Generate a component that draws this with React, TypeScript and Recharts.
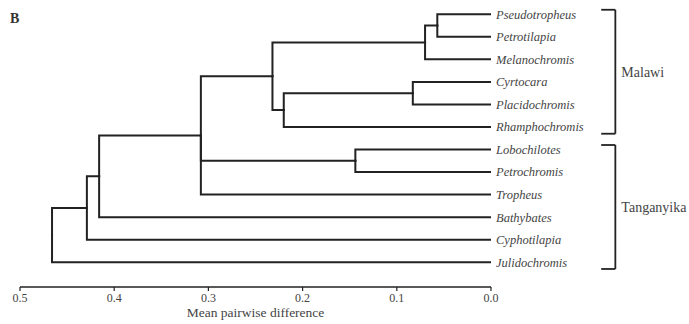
import React from 'react';
import { ScatterChart, Scatter, XAxis, YAxis, ReferenceLine } from 'recharts';

// leaves, top to bottom
const leafNames = [
  'Pseudotropheus', 'Petrotilapia', 'Melanochromis', 'Cyrtocara', 'Placidochromis', 'Rhamphochromis',
  'Lobochilotes', 'Petrochromis', 'Tropheus', 'Bathybates', 'Cyphotilapia', 'Julidochromis',
];
// internal nodes get ids 12, 13, ... in this order
const mergeChildren = [[0, 1], [12, 2], [3, 4], [14, 5], [13, 15], [6, 7], [16, 17, 8], [18, 9], [19, 10], [20, 11]];
const mergeHeights = [0.057, 0.07, 0.083, 0.22, 0.232, 0.144, 0.308, 0.416, 0.429, 0.466];
const xTicks = [0.5, 0.4, 0.3, 0.2, 0.1, 0.0];
const groupNames = ['Malawi', 'Tanganyika'];
const groupFirst = [0, 6];
const groupLast = [5, 11];

const INK = '#222';
const TEXT = '#444';
const FONT = '"Liberation Serif", "DejaVu Serif", serif';

// node positions: height + vertical slot
const pos: { h: number; y: number }[] = leafNames.map((_, i) => ({ h: 0, y: i }));
mergeChildren.forEach((ch, k) => {
  const ys = ch.map((c) => pos[c].y);
  pos.push({ h: mergeHeights[k], y: (Math.min(...ys) + Math.max(...ys)) / 2 });
});

// one elbow path per child
const paths: { x: number; y: number }[][] = [];
mergeChildren.forEach((ch, k) => {
  const node = pos[leafNames.length + k];
  ch.forEach((c) => {
    paths.push([
      { x: pos[c].h, y: pos[c].y },
      { x: node.h, y: pos[c].y },
      { x: node.h, y: node.y },
    ]);
  });
});

const leafTicks = leafNames.map((_, i) => i);
const BR_X = -0.132;
const BR_STUB = -0.117;

export default function App() {
  return (
    <div style={{ position: 'absolute', left: 0, top: 0, width: 689, height: 324, background: '#fff' }}>
      <div style={{ position: 'absolute', left: 10, top: 11, fontFamily: FONT, fontWeight: 'bold', fontSize: 14, color: '#333' }}>
        B
      </div>
      <ScatterChart width={689} height={324} margin={{ top: 3, right: 197, bottom: 0, left: 20 }}>
        <XAxis
          type="number"
          dataKey="x"
          domain={[0, 0.5]}
          reversed
          allowDataOverflow
          ticks={xTicks}
          interval={0}
          tickFormatter={(v: number) => v.toFixed(1)}
          height={37}
          tickSize={4}
          tickMargin={2}
          axisLine={{ stroke: INK, strokeWidth: 1.5 }}
          tickLine={{ stroke: INK, strokeWidth: 1.2 }}
          tick={{ fill: TEXT, fontSize: 12, fontFamily: FONT }}
          label={{ value: 'Mean pairwise difference', position: 'insideBottom', offset: 7, fill: TEXT, fontSize: 13.5, fontFamily: FONT }}
        />
        <YAxis
          type="number"
          dataKey="y"
          domain={[-0.5, 12.1]}
          reversed
          allowDataOverflow
          orientation="right"
          width={1}
          ticks={leafTicks}
          interval={0}
          tickFormatter={(i: number) => leafNames[i] ?? ''}
          axisLine={false}
          tickLine={false}
          tickSize={0}
          tickMargin={5}
          tick={{ fill: TEXT, fontSize: 12.5, fontFamily: FONT, fontStyle: 'italic' }}
        />
        {paths.map((p, i) => (
          <Scatter
            key={`path-${i}`}
            data={p}
            line={{ stroke: INK, strokeWidth: 2, strokeLinejoin: 'miter', strokeLinecap: 'square' }}
            lineType="joint"
            shape={() => <g />}
            legendType="none"
            isAnimationActive={false}
          />
        ))}
        {groupNames.map((g, i) => {
          const y1 = groupFirst[i] - 0.2;
          const y2 = groupLast[i] + 0.3;
          return (
            <React.Fragment key={g}>
              <ReferenceLine
                segment={[{ x: BR_X, y: y1 }, { x: BR_X, y: y2 }]}
                ifOverflow="visible"
                stroke={INK}
                strokeWidth={1.8}
                label={{ value: g, position: 'right', offset: 6, fill: TEXT, fontSize: 14, fontFamily: FONT }}
              />
              <ReferenceLine segment={[{ x: BR_STUB, y: y1 }, { x: BR_X, y: y1 }]} ifOverflow="visible" stroke={INK} strokeWidth={1.8} />
              <ReferenceLine segment={[{ x: BR_STUB, y: y2 }, { x: BR_X, y: y2 }]} ifOverflow="visible" stroke={INK} strokeWidth={1.8} />
            </React.Fragment>
          );
        })}
      </ScatterChart>
    </div>
  );
}
